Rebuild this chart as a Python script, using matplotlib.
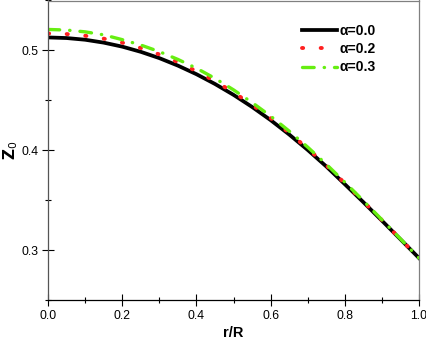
import matplotlib
matplotlib.use('Agg')
import matplotlib.pyplot as plt
from matplotlib.ticker import MultipleLocator

# values
r = [0.0, 0.05, 0.1, 0.15, 0.2, 0.25, 0.3, 0.35, 0.4, 0.45, 0.5,
     0.55, 0.6, 0.65, 0.7, 0.75, 0.8, 0.85, 0.9, 0.95, 1.0]
z_a00 = [0.513, 0.5124, 0.5107, 0.5078, 0.5038, 0.4986, 0.4923, 0.4848, 0.4762, 0.4664, 0.4555,
         0.4434, 0.4302, 0.4158, 0.4003, 0.3838, 0.3660, 0.3480, 0.3295, 0.3108, 0.292]
z_a02 = [0.517, 0.5164, 0.5147, 0.5118, 0.5078, 0.5024, 0.4960, 0.4883, 0.4792, 0.4692, 0.4580,
         0.4456, 0.4322, 0.4175, 0.4017, 0.3849, 0.3670, 0.3487, 0.3300, 0.3110, 0.292]
z_a03 = [0.521, 0.5204, 0.5186, 0.5156, 0.5108, 0.5054, 0.4988, 0.4910, 0.4822, 0.4720, 0.4605,
         0.4478, 0.4342, 0.4192, 0.4031, 0.3860, 0.3680, 0.3494, 0.3304, 0.3112, 0.292]
labels = ['α=0.0', 'α=0.2', 'α=0.3']

plt.rcParams['font.family'] = ['Liberation Sans', 'DejaVu Sans']

fig = plt.figure(figsize=(4.27, 3.43), dpi=100)
ax = fig.add_axes([48/427, 43/343, 371/427, 299.5/343])

ax.plot(r, z_a00, color='black', lw=2.7, label=labels[0])
ax.plot(r, z_a02, color='#ff2020', lw=2.8, dash_capstyle='round',
        linestyle=(0, (0.3, 4.5)), label=labels[1])
ax.plot(r, z_a03, color='#66ee11', lw=2.4, dash_capstyle='round',
        linestyle=(0, (3.5, 3.0, 0.1, 3.0)), label=labels[2])

ax.set_xlim(0, 1.0)
ax.set_ylim(0.25, 0.55)
ax.xaxis.set_minor_locator(MultipleLocator(0.1))
ax.yaxis.set_minor_locator(MultipleLocator(0.05))
ax.set_xticks([0.0, 0.2, 0.4, 0.6, 0.8, 1.0])
ax.set_xticklabels(['0.0', '0.2', '0.4', '0.6', '0.8', '1.0'])
ax.set_yticks([0.3, 0.4, 0.5])
ax.set_yticklabels(['0.3', '0.4', '0.5'])

ax.tick_params(which='major', direction='inout', length=8.6, width=0.8,
               labelsize=8.8, pad=2.5)
ax.tick_params(which='minor', direction='inout', length=5, width=0.8)
ax.tick_params(axis='x', which='major', pad=3.0)

ax.spines['bottom'].set_color('black')
ax.spines['left'].set_color('#555555')
ax.spines['top'].set_color('#808080')
ax.spines['right'].set_color('#808080')
for s in ax.spines.values():
    s.set_linewidth(0.9)

ax.set_xlabel('r/R', fontsize=10.5, fontweight='bold', labelpad=3)
ax.set_ylabel(r'$\mathbf{Z}_\mathrm{0}$', fontsize=11, labelpad=1)

leg = ax.legend(loc='upper right', bbox_to_anchor=(0.917, 0.963), frameon=False,
                handlelength=2.5, handletextpad=0.2, labelspacing=0.3,
                prop={'weight': 'bold', 'size': 10})

fig.savefig('out.png', dpi=100)
